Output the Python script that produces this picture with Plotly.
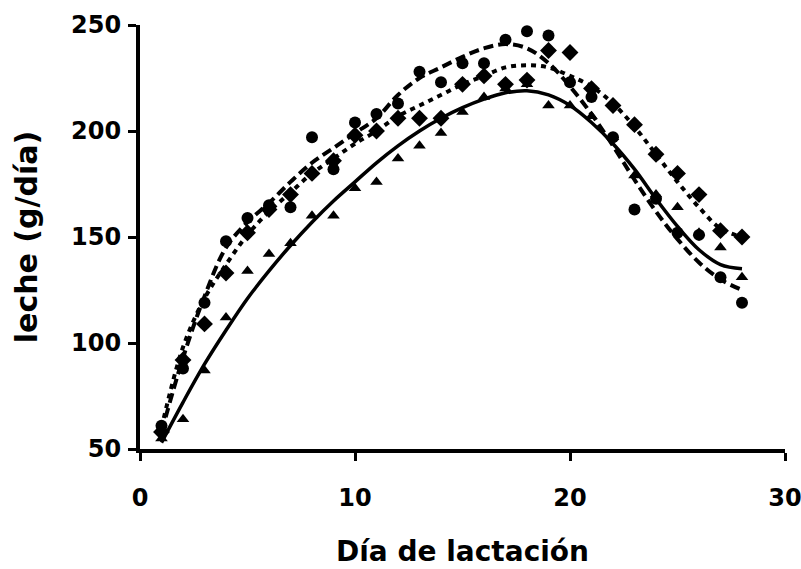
import plotly.graph_objects as go

days = list(range(1, 29))

# Observed points
circulos = [61, 88, 119, 148, 159, 165, 164, 197, 182, 204, 208, 213, 228, 223,
            232, 232, 243, 247, 245, 223, 216, 197, 163, 168, 152, 151, 131, 119]
rombos = [58, 92, 109, 133, 152, 163, 170, 180, 186, 198, 200, 206, 206, 206,
          222, 226, 222, 224, 238, 237, 220, 212, 203, 189, 180, 170, 153, 150]
triangulos = [55, 64, 87, 112, 134, 142, 147, 160, 160, 173, 176, 187, 193, 199,
              209, 216, 220, 222, 212, 212, 207, 197, 179, 170, 164, 152, 145, 131]

# Fitted curves
ajuste_circ = [58, 93, 122, 145, 157, 166, 176, 185, 192, 199, 206, 217, 225, 230,
               235, 239, 241, 239, 232, 221, 208, 193, 177, 162, 149, 138, 130, 125]
ajuste_romb = [60, 98, 121, 137, 151, 162, 171, 180, 187, 194, 200, 207, 212, 217,
               222, 226, 230, 231, 230, 226, 221, 213, 202, 189, 176, 164, 154, 150]
ajuste_tri = [53, 72, 90, 106, 121, 134, 146, 157, 167, 176, 185, 193, 200, 206,
              211, 215, 218, 219, 217, 212, 204, 194, 182, 168, 155, 144, 137, 135]

x_ticks = [0, 10, 20, 30]
y_ticks = [50, 100, 150, 200, 250]

fig = go.Figure()

fig.add_trace(go.Scatter(x=days, y=ajuste_circ, mode="lines", line_shape="spline",
                         line=dict(color="black", width=4, dash="10px,5px")))
fig.add_trace(go.Scatter(x=days, y=ajuste_romb, mode="lines", line_shape="spline",
                         line=dict(color="black", width=4, dash="5px,5px")))
fig.add_trace(go.Scatter(x=days, y=ajuste_tri, mode="lines", line_shape="spline",
                         line=dict(color="black", width=3.5)))

fig.add_trace(go.Scatter(x=days, y=circulos, mode="markers",
                         marker=dict(symbol="circle", size=12, color="black")))
fig.add_trace(go.Scatter(x=days, y=rombos, mode="markers",
                         marker=dict(symbol="diamond", size=13, color="black")))
fig.add_trace(go.Scatter(x=days, y=triangulos, mode="markers",
                         marker=dict(symbol="triangle-up", size=11, color="black")))

font_main = "DejaVu Sans, sans-serif"

fig.update_layout(
    width=801, height=569,
    margin=dict(l=140, r=16, t=25, b=120),
    paper_bgcolor="white", plot_bgcolor="white",
    showlegend=False,
    font=dict(family=font_main, color="black"),
)

fig.update_xaxes(
    range=[0, 30], tickvals=x_ticks, ticktext=[f"<b>{v}</b>" for v in x_ticks],
    showgrid=False, zeroline=False, automargin=False,
    showline=True, linecolor="black", linewidth=4,
    ticks="outside", ticklen=8, tickwidth=3, tickcolor="black",
    tickfont=dict(size=24, family=font_main),
    ticklabelstandoff=16, ticklabeloverflow="allow",
    title=dict(text="<b>Día de lactación</b>", font=dict(size=28, family=font_main), standoff=32),
)
fig.update_yaxes(
    range=[50, 250], tickvals=y_ticks, ticktext=[f"<b>{v}</b>" for v in y_ticks],
    showgrid=False, zeroline=False, automargin=False,
    showline=True, linecolor="black", linewidth=4,
    ticks="outside", ticklen=8, tickwidth=3, tickcolor="black",
    tickfont=dict(size=24, family=font_main),
    ticklabelstandoff=2, ticklabeloverflow="allow",
    title=dict(text="<b>leche (g/día)</b>", font=dict(size=30, family=font_main), standoff=26),
)

fig.write_html("out.html")
